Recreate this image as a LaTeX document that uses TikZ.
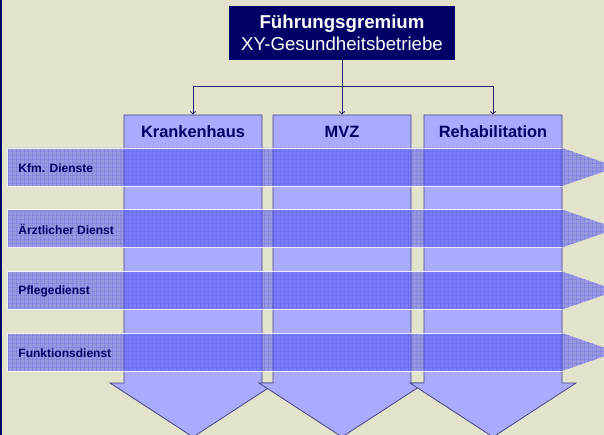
\documentclass[tikz,border=0pt]{standalone}
\usepackage{fontspec}
\setmainfont{Liberation Sans}
\usetikzlibrary{arrows,patterns}

\definecolor{bgbeige}{RGB}{227,227,204}
\definecolor{navy}{RGB}{0,0,102}
\definecolor{linknavy}{RGB}{40,40,110}
\definecolor{colblue}{RGB}{170,170,255}
\definecolor{coledge}{RGB}{70,70,130}
\definecolor{bandblue}{RGB}{70,70,250}
\definecolor{gridblue}{RGB}{90,90,220}

\tikzset{
  column/.style={fill=colblue,draw=coledge,line width=0.6pt,line join=miter},
  band/.style={fill=bandblue,fill opacity=0.47},
  bandgrid/.style={pattern=grid,pattern color=gridblue,opacity=0.25},
  bandedge/.style={draw=white,opacity=0.85,line width=0.7pt},
  head/.style={minimum width=103.5pt,minimum height=25.5pt,inner sep=0pt,
               text=navy,font=\fontsize{12.3}{14}\selectfont\bfseries},
  bandlabel/.style={anchor=west,inner sep=0pt,text=navy,
                    font=\fontsize{9}{11}\selectfont\bfseries},
}

\begin{document}
\begin{tikzpicture}[x=0.75pt,y=-0.75pt,>=to,line width=0.75pt]
  \fill[bgbeige] (0,0) rectangle (604,435);
  \useasboundingbox (0,0) rectangle (604,435);
  \clip (0,0) rectangle (604,435);
  \fill[navy] (0,0) rectangle (2,435);

  % the three columns
  \foreach \l/\r in {124/262, 273/411, 424/562}
    \draw[column] (\l,115) -- (\r,115) -- (\r,383) -- (\r+14,383)
      -- ({(\l+\r)/2},437) -- (\l-14,383) -- (\l,383) -- cycle;

  \node[head] (kh)   at (193,132) {Krankenhaus};
  \node[head] (mvz)  at (342,132) {MVZ};
  \node[head] (reha) at (493,132) {Rehabilitation};

  % top box
  \node[fill=navy,text=white,minimum width=169.5pt,minimum height=40.5pt,
        align=center,font=\fontsize{14}{16.5}\selectfont] (lead) at (342,33)
        {\textbf{Führungsgremium}\\XY-Gesundheitsbetriebe};

  \coordinate (split) at (342,87);
  \draw[->,linknavy] (lead.south) -- (mvz.north);
  \draw[->,linknavy] (split) -| (kh.north);
  \draw[->,linknavy] (split) -| (reha.north);

  % the service bands
  \foreach \y/\lbl [count=\i] in {167/Kfm. Dienste, 228.5/Ärztlicher Dienst,
                                  290.5/Pflegedienst, 352/Funktionsdienst} {
    \fill[band] (7,\y-19) -- (562,\y-19) -- (617,\y) -- (562,\y+19)
      -- (7,\y+19) -- cycle;
    \fill[bandgrid] (7,\y-19) -- (562,\y-19) -- (617,\y) -- (562,\y+19)
      -- (7,\y+19) -- cycle;
    \draw[bandedge] (562,\y-19) -- (7,\y-19) -- (7,\y+19) -- (562,\y+19);
    \node[bandlabel] (lbl\i) at (18,\y+1) {\lbl};
  }
\end{tikzpicture}
\end{document}
